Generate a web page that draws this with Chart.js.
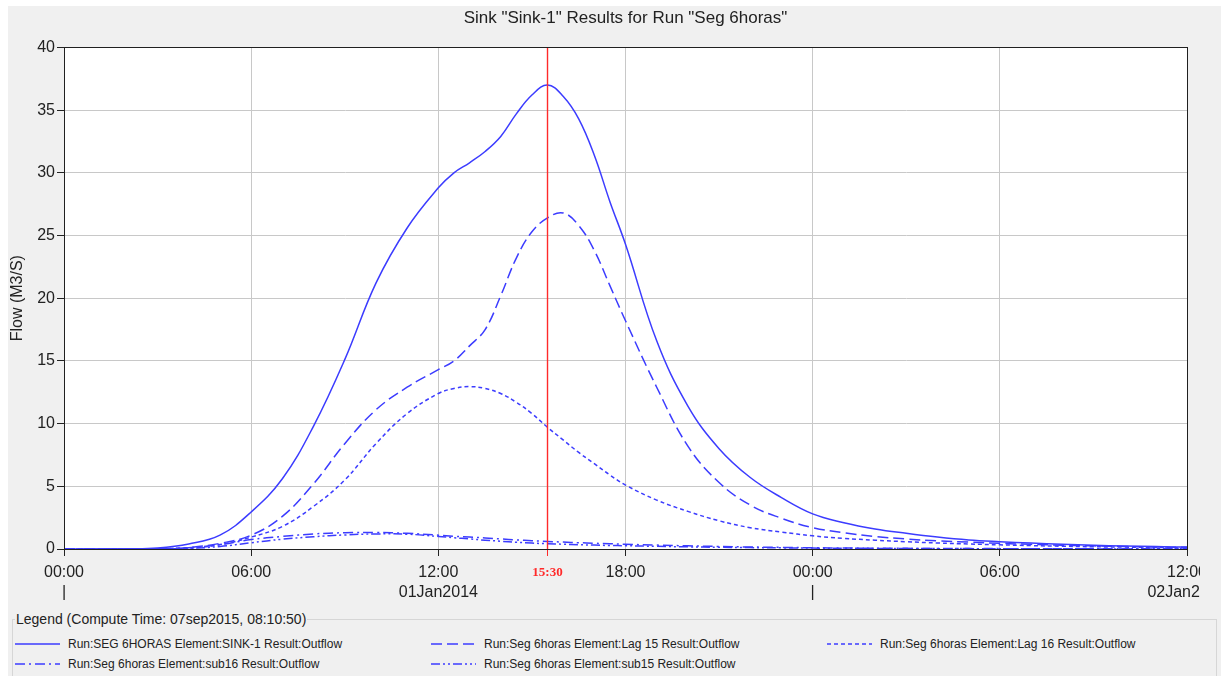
<!DOCTYPE html>
<html>
<head>
<meta charset="utf-8">
<script src="https://cdn.jsdelivr.net/npm/chart.js"></script>
<style>
  body { margin: 0; background: #fff; font-family: 'Liberation Sans', Arial, sans-serif; }
  #panel { position: absolute; left: 8px; top: 6px; width: 1213px; height: 670px; background: #f0f0f0; overflow: hidden; }
  #chart { position: absolute; left: 0; top: 0; }
  #legend { position: absolute; left: 4px; top: 613px; width: 1203px; height: 70px; border: 1px solid #d6d6d6; }
  #legend .title { position: absolute; left: 2px; top: -10px; font-size: 14px; color: #222; background: #f0f0f0; padding: 0 1px; line-height: 18px; }
  #legend .item { position: absolute; height: 20px; display: flex; align-items: center; font-size: 12px; color: #222; white-space: nowrap; }
  #legend svg { margin-right: 8px; }
</style>
</head>
<body>
<div id="panel">
  <canvas id="chart" width="1192" height="604"></canvas>
  <div id="legend"><span class="title">Legend (Compute Time: 07sep2015, 08:10:50)</span></div>
</div>
<script>
// hours after 00:00 01Jan2014
const hours = [0, 1, 2, 3, 4, 5, 6, 7, 8, 9, 10, 11, 12,
  12.5, 13, 13.5, 14, 14.5, 15, 15.5, 16, 16.5, 17, 17.5,
  18, 19, 20, 21, 22, 23, 24, 25, 26, 27, 28, 29, 30, 31, 32, 33, 34, 35, 36]

const sink1 = [0, 0, 0.02, 0.08, 0.4, 1.1, 2.95, 5.6, 9.8, 15.1, 21.2, 25.6, 28.8,
  30.0, 30.8, 31.7, 32.9, 34.7, 36.2, 37.0, 36.1, 34.3, 31.4, 27.7,
  24.3, 16.6, 11.4, 8.0, 5.7, 4.1, 2.8, 2.1, 1.6, 1.25, 0.95, 0.72, 0.58, 0.47, 0.38, 0.3, 0.24, 0.19, 0.15]

const lag15 = [0, 0, 0, 0.02, 0.12, 0.45, 1.1, 2.6, 5.2, 8.4, 11.1, 12.9, 14.3,
  15.0, 16.2, 17.5, 20.2, 23.2, 25.3, 26.4, 26.8, 25.8, 23.8, 21.0,
  18.2, 12.9, 8.2, 5.3, 3.5, 2.45, 1.7, 1.3, 1.0, 0.8, 0.65, 0.55, 0.45, 0.37, 0.3, 0.25, 0.2, 0.16, 0.13]

const lag16 = [0, 0, 0, 0.02, 0.08, 0.35, 0.95, 1.8, 3.4, 5.5, 8.4, 10.8, 12.4,
  12.8, 12.95, 12.8, 12.4, 11.7, 10.8, 9.7, 8.7, 7.7, 6.8, 5.9,
  5.1, 3.9, 3.0, 2.25, 1.7, 1.35, 1.05, 0.85, 0.7, 0.58, 0.48, 0.4, 0.33, 0.27, 0.22, 0.18, 0.15, 0.12, 0.1]

const sub16 = [0, 0, 0, 0.02, 0.1, 0.35, 0.75, 1.0, 1.2, 1.3, 1.32, 1.25, 1.1,
  1.02, 0.95, 0.88, 0.8, 0.73, 0.66, 0.6, 0.55, 0.5, 0.46, 0.42,
  0.38, 0.31, 0.25, 0.2, 0.16, 0.13, 0.1, 0.08, 0.06, 0.05, 0.04, 0.03, 0.03, 0.02, 0.02, 0.02, 0.01, 0.01, 0.01]

const sub15 = [0, 0, 0, 0.01, 0.05, 0.2, 0.5, 0.78, 0.98, 1.12, 1.2, 1.18, 1.0,
  0.9, 0.8, 0.7, 0.62, 0.54, 0.47, 0.42, 0.38, 0.34, 0.31, 0.28,
  0.26, 0.21, 0.17, 0.14, 0.11, 0.09, 0.07, 0.06, 0.05, 0.04, 0.03, 0.03, 0.02, 0.02, 0.02, 0.01, 0.01, 0.01, 0.01]

const seriesNames = [
  'Run:SEG 6HORAS Element:SINK-1 Result:Outflow',
  'Run:Seg 6horas Element:Lag 15 Result:Outflow',
  'Run:Seg 6horas Element:Lag 16 Result:Outflow',
  'Run:Seg 6horas Element:sub16 Result:Outflow',
  'Run:Seg 6horas Element:sub15 Result:Outflow',
]

const xTickHours = [0, 6, 12, 15.5, 18, 24, 30, 36]
const xTickLabels = ['00:00', '06:00', '12:00', '15:30', '18:00', '00:00', '06:00', '12:00']
const xDateLabels = ['|', '', '01Jan2014', '', '', '|', '', '02Jan2014']
const cursorHour = 15.5

const blue = '#3c3cff'
const red = '#ff2a2a'
const textColor = '#222'
const gridColor = '#c8c8c8'

const dashes = [[], [11, 5], [4, 3], [10, 4, 2, 4], [9, 3, 2, 3, 2, 3]]
const seriesValues = [sink1, lag15, lag16, sub16, sub15]

const datasets = seriesValues.map((values, i) => ({
  label: seriesNames[i],
  data: hours.map((h, j) => ({ x: h, y: values[j] })),
  borderColor: blue,
  borderWidth: 1.5,
  borderDash: dashes[i],
  pointRadius: 0,
  fill: false,
  tension: 0.4,
}))

// red time cursor at 15:30
const cursorLine = {
  label: 'cursor',
  data: [{ x: cursorHour, y: 0 }, { x: cursorHour, y: 40 }],
  borderColor: red,
  backgroundColor: red,
  borderWidth: 1.4,
  borderDash: [],
  pointRadius: 0,
  fill: false,
  tension: 0,
  order: -1,
}

const tickFont = { family: 'Liberation Sans', size: 16, lineHeight: 1.25 }
const cursorFont = { family: 'Liberation Serif', size: 13, weight: 'bold', lineHeight: 1.54 }
const isCursor = ctx => ctx.tick && ctx.tick.value === cursorHour

const plotFrame = {
  id: 'plotFrame',
  beforeDraw: chart => {
    const { left, top, width, height } = chart.chartArea
    chart.ctx.fillStyle = '#fff'
    chart.ctx.fillRect(left, top, width, height)
  },
  afterDraw: chart => {
    const { left, top, width, height } = chart.chartArea
    const ctx = chart.ctx
    ctx.save()
    ctx.strokeStyle = '#202020'
    ctx.lineWidth = 1
    ctx.strokeRect(Math.round(left) + 0.5, Math.round(top) + 0.5, Math.round(width), Math.round(height))
    ctx.restore()
  },
}

const options = {
  animation: false,
  responsive: false,
  layout: { padding: { top: 0, right: 13, bottom: 0, left: 0 } },
  scales: {
    x: {
      type: 'linear',
      min: 0,
      max: 36,
      afterBuildTicks: scale => {
        scale.ticks = xTickHours.map(v => ({ value: v }))
      },
      afterFit: scale => {
        scale.paddingRight = 0
        scale.paddingLeft = 0
      },
      grid: {
        color: ctx => (isCursor(ctx) ? 'rgba(0,0,0,0)' : gridColor),
        tickColor: ctx => (isCursor(ctx) ? red : textColor),
        tickLength: 7,
        lineWidth: 1,
      },
      border: { display: true, color: '#202020' },
      ticks: {
        autoSkip: false,
        maxRotation: 0,
        padding: 7,
        color: ctx => (isCursor(ctx) ? red : textColor),
        font: ctx => (isCursor(ctx) ? cursorFont : tickFont),
        callback: value => {
          const i = xTickHours.indexOf(value)
          if (i < 0) return ''
          return xDateLabels[i] ? [xTickLabels[i], xDateLabels[i]] : xTickLabels[i]
        },
      },
    },
    y: {
      min: 0,
      max: 40,
      afterFit: scale => {
        scale.width = 56
      },
      title: {
        display: true,
        text: 'Flow (M3/S)',
        color: textColor,
        font: { family: 'Liberation Sans', size: 16 },
        padding: { top: 0, bottom: 0 },
      },
      grid: { color: gridColor, tickColor: textColor, tickLength: 7 },
      border: { display: true, color: '#202020' },
      ticks: {
        stepSize: 5,
        padding: 2,
        color: textColor,
        font: { family: 'Liberation Sans', size: 16 },
      },
    },
  },
  plugins: {
    title: {
      display: true,
      text: 'Sink "Sink-1" Results for Run "Seg 6horas"',
      color: textColor,
      fullSize: false,
      font: { family: 'Liberation Sans', size: 17, weight: 'normal' },
      padding: { top: 2, bottom: 19 },
    },
    legend: { display: false },
    tooltip: { enabled: false },
  },
}

const chart = new Chart(document.getElementById('chart'), {
  type: 'line',
  data: { datasets: [...datasets, cursorLine] },
  options,
  plugins: [plotFrame],
})

// legend in three columns, like the original panel
const legendColumns = [2, 418, 814]
const legendRows = [14, 34]
const legendBox = document.getElementById('legend')
datasets.forEach((ds, i) => {
  const item = document.createElement('div')
  item.className = 'item'
  item.style.left = legendColumns[i % 3] + 'px'
  item.style.top = legendRows[Math.floor(i / 3)] + 'px'
  const dash = ds.borderDash.length ? ds.borderDash.join(' ') : 'none'
  item.innerHTML =
    '<svg width="45" height="10"><line x1="0" y1="5" x2="45" y2="5" stroke="' + blue +
    '" stroke-width="1.5" stroke-dasharray="' + dash + '"/></svg><span>' + ds.label + '</span>'
  legendBox.appendChild(item)
})
</script>
</body>
</html>
